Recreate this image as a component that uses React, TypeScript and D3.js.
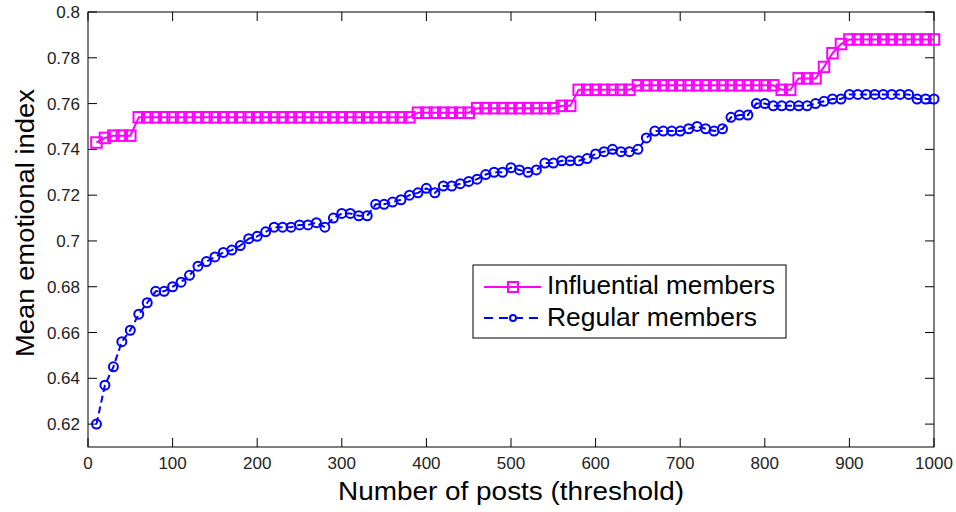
import React from "react";
import * as d3 from "d3";

const THRESHOLDS = d3.range(10, 1001, 10);

const INFLUENTIAL = [
  0.743, 0.745, 0.746, 0.746, 0.746, 0.754, 0.754, 0.754, 0.754, 0.754,
  0.754, 0.754, 0.754, 0.754, 0.754, 0.754, 0.754, 0.754, 0.754, 0.754,
  0.754, 0.754, 0.754, 0.754, 0.754, 0.754, 0.754, 0.754, 0.754, 0.754,
  0.754, 0.754, 0.754, 0.754, 0.754, 0.754, 0.754, 0.754, 0.756, 0.756,
  0.756, 0.756, 0.756, 0.756, 0.756, 0.758, 0.758, 0.758, 0.758, 0.758,
  0.758, 0.758, 0.758, 0.758, 0.758, 0.759, 0.759, 0.766, 0.766, 0.766,
  0.766, 0.766, 0.766, 0.766, 0.768, 0.768, 0.768, 0.768, 0.768, 0.768,
  0.768, 0.768, 0.768, 0.768, 0.768, 0.768, 0.768, 0.768, 0.768, 0.768,
  0.768, 0.766, 0.766, 0.771, 0.771, 0.771, 0.776, 0.782, 0.786, 0.788,
  0.788, 0.788, 0.788, 0.788, 0.788, 0.788, 0.788, 0.788, 0.788, 0.788,
];

const REGULAR = [
  0.620, 0.637, 0.645, 0.656, 0.661, 0.668, 0.673, 0.678, 0.678, 0.680,
  0.682, 0.685, 0.689, 0.691, 0.693, 0.695, 0.696, 0.698, 0.701, 0.702,
  0.704, 0.706, 0.706, 0.706, 0.707, 0.707, 0.708, 0.706, 0.710, 0.712,
  0.712, 0.711, 0.711, 0.716, 0.716, 0.717, 0.718, 0.720, 0.721, 0.723,
  0.721, 0.724, 0.724, 0.725, 0.726, 0.727, 0.729, 0.730, 0.730, 0.732,
  0.731, 0.730, 0.731, 0.734, 0.734, 0.735, 0.735, 0.735, 0.736, 0.738,
  0.739, 0.740, 0.739, 0.739, 0.740, 0.745, 0.748, 0.748, 0.748, 0.748,
  0.749, 0.750, 0.749, 0.748, 0.749, 0.754, 0.755, 0.755, 0.760, 0.760,
  0.759, 0.759, 0.759, 0.759, 0.759, 0.760, 0.761, 0.762, 0.762, 0.764,
  0.764, 0.764, 0.764, 0.764, 0.764, 0.764, 0.764, 0.762, 0.762, 0.762,
];

const X_TICKS = [0, 100, 200, 300, 400, 500, 600, 700, 800, 900, 1000];
const Y_TICKS = [0.62, 0.64, 0.66, 0.68, 0.7, 0.72, 0.74, 0.76, 0.78, 0.8];
const SERIES_NAMES = ["Influential members", "Regular members"];
const X_TITLE = "Number of posts (threshold)";
const Y_TITLE = "Mean emotional index";

const MAGENTA = "#ff00ff";
const BLUE = "#0000ff";
const FONT = "'Liberation Sans', Arial, Helvetica, sans-serif";

export default function App() {
  const W = 956;
  const H = 512;
  const left = 88, right = 934, top = 12, bottom = 447;
  const x = d3.scaleLinear().domain([0, 1000]).range([left, right]);
  const y = d3.scaleLinear().domain([0.61, 0.8]).range([bottom, top]);
  const tick = 9;

  const line = d3
    .line<number>()
    .x((_, i) => x(THRESHOLDS[i]))
    .y((d) => y(d));

  const sq = 10.5;
  const cr = 4.5;

  return (
    <svg
      width={W}
      height={H}
      style={{ position: "absolute", left: 0, top: 0, background: "#fff" }}
      fontFamily={FONT}
    >
      <rect x={0} y={0} width={W} height={H} fill="#fff" />
      <rect x={left} y={top} width={right - left} height={bottom - top} fill="none" stroke="#000" strokeWidth={1} />
      {X_TICKS.map((t) => (
        <g key={"xt" + t}>
          <line x1={x(t)} x2={x(t)} y1={bottom} y2={bottom - tick} stroke="#000" />
          <line x1={x(t)} x2={x(t)} y1={top} y2={top + tick} stroke="#000" />
          <text x={x(t)} y={469} fontSize={17} textAnchor="middle" fill="#222">
            {t}
          </text>
        </g>
      ))}
      {Y_TICKS.map((t) => (
        <g key={"yt" + t}>
          <line x1={left} x2={left + tick} y1={y(t)} y2={y(t)} stroke="#000" />
          <line x1={right} x2={right - tick} y1={y(t)} y2={y(t)} stroke="#000" />
          <text x={80} y={y(t) + 6} fontSize={17} textAnchor="end" fill="#222">
            {String(+t.toFixed(2))}
          </text>
        </g>
      ))}
      <path d={line(REGULAR) || ""} fill="none" stroke={BLUE} strokeWidth={2} strokeDasharray="7,4" />
      {REGULAR.map((v, i) => (
        <circle key={"c" + i} cx={x(THRESHOLDS[i])} cy={y(v)} r={cr} fill="none" stroke={BLUE} strokeWidth={2} />
      ))}
      <path d={line(INFLUENTIAL) || ""} fill="none" stroke={MAGENTA} strokeWidth={2} />
      {INFLUENTIAL.map((v, i) => (
        <rect
          key={"s" + i}
          x={x(THRESHOLDS[i]) - sq / 2}
          y={y(v) - sq / 2}
          width={sq}
          height={sq}
          fill="none"
          stroke={MAGENTA}
          strokeWidth={2}
        />
      ))}
      <g>
        <rect x={473} y={265} width={313} height={73} fill="#fff" stroke="#000" strokeWidth={1} />
        <line x1={484} x2={541} y1={287} y2={287} stroke={MAGENTA} strokeWidth={2} />
        <rect x={513 - 5} y={287 - 5} width={10} height={10} fill="none" stroke={MAGENTA} strokeWidth={2} />
        <text x={547} y={294} fontSize={25} fill="#000" textLength={228} lengthAdjust="spacingAndGlyphs">
          {SERIES_NAMES[0]}
        </text>
        <line x1={484} x2={541} y1={318} y2={318} stroke={BLUE} strokeWidth={2} strokeDasharray="9,6" />
        <circle cx={513} cy={318} r={3} fill="#fff" stroke={BLUE} strokeWidth={2} />
        <text x={547} y={326} fontSize={25} fill="#000" textLength={210} lengthAdjust="spacingAndGlyphs">
          {SERIES_NAMES[1]}
        </text>
      </g>
      <text
        x={(left + right) / 2}
        y={500}
        fontSize={25}
        textAnchor="middle"
        fill="#000"
        textLength={346}
        lengthAdjust="spacingAndGlyphs"
      >
        {X_TITLE}
      </text>
      <text
        transform={`translate(34, 223) rotate(-90)`}
        fontSize={25}
        textAnchor="middle"
        fill="#000"
        textLength={268}
        lengthAdjust="spacingAndGlyphs"
      >
        {Y_TITLE}
      </text>
    </svg>
  );
}
